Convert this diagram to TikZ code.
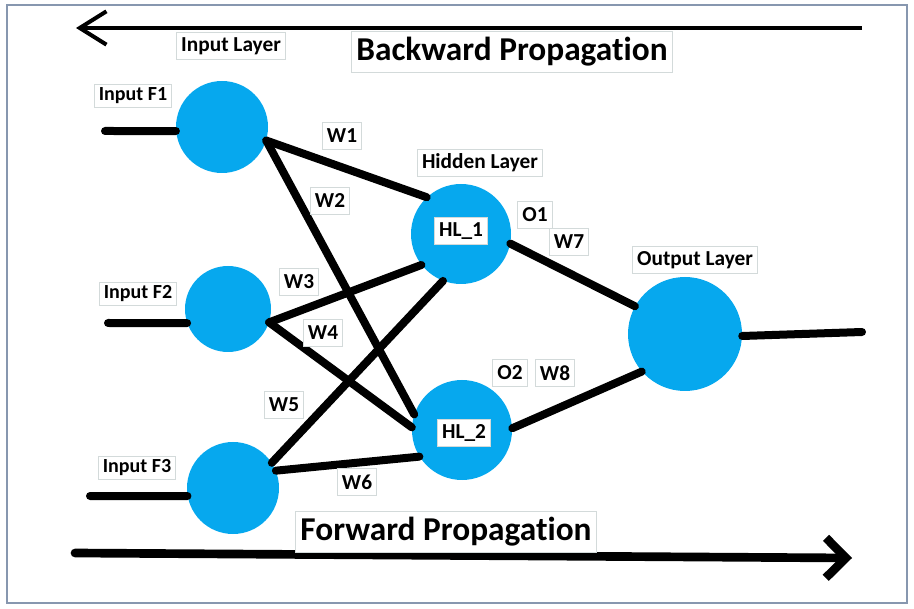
\documentclass[tikz,border=0pt]{standalone}
\usepackage{fontspec}
\setmainfont{Carlito}[Ligatures=NoCommon]
\usetikzlibrary{arrows.meta,positioning}
\definecolor{neuronblue}{HTML}{06A8EE}
\definecolor{tagline}{HTML}{D3DADA}
\definecolor{framegray}{HTML}{8797AF}

\begin{document}
\begin{tikzpicture}[x=0.75pt,y=-0.75pt,
    neuron/.style={circle,fill=neuronblue,inner sep=0pt,minimum size=#1},
    wire/.style={line width=6pt,line cap=round},
    tag/.style={draw=tagline,fill=white,line width=0.6pt,inner xsep=3.5pt,inner ysep=2pt,
      minimum height=20pt,font=\bfseries\fontsize{16}{18}\selectfont},
    smalltag/.style={tag,inner ysep=1pt,minimum height=17pt,font=\bfseries\fontsize{15}{17}\selectfont},
    bigtag/.style={tag,inner sep=3.5pt,minimum height=31pt,font=\bfseries\fontsize{25}{28}\selectfont}]
  \useasboundingbox (0,0) rectangle (914,609);
  \draw[framegray,line width=2pt] (7,5) rectangle (907,603);

  % neurons
  \node[neuron=69pt] (in1) at (222,127) {};
  \node[neuron=64.5pt] (in2) at (228,309) {};
  \node[neuron=69pt] (in3) at (233,488) {};
  \node[neuron=75pt] (hl1) at (461,234) {};
  \node[neuron=75pt] (hl2) at (462,430) {};
  \node[neuron=85.5pt] (out) at (685,334) {};

  % inputs and output
  \coordinate (f1) at (105,131);
  \coordinate (f2) at (108,323);
  \coordinate (f3) at (90,496);
  \coordinate (y) at (862,332);
  \draw[wire] (f1) -- (in1.185);
  \draw[wire] (f2) -- (in2.199);
  \draw[wire] (f3) -- (in3.190);
  \draw[wire] (out.-2) -- (y);

  % weights
  \draw[wire] (in1.-17) -- (hl1.133);
  \draw[wire] (in1.-17) -- (hl2.162);
  \draw[wire] (in2.-18) -- (hl1.218);
  \draw[wire] (in2.-18) -- (hl2.177);
  \draw[wire] (in3.33) -- (hl1.249);
  \draw[wire] (in3.22) -- (hl2.212);
  \draw[wire] (hl1.-11) -- (out.151);
  \draw[wire] (hl2.2) -- (out.221);

  % propagation arrows
  \coordinate (bwdstart) at (862,28);
  \coordinate (bwdend) at (76,28);
  \coordinate (fwdstart) at (75,553);
  \coordinate (fwdend) at (852,558);
  \draw[line width=3pt,-{Straight Barb[length=20pt 0 0,width=25pt 0 0]}] (bwdstart) -- (bwdend);
  \draw[line width=6.5pt,line cap=round,-{Straight Barb[length=15pt 0 0,width=30pt 0 0]}] (fwdstart) -- (fwdend);

  % labels
  \node[tag] (inlayer) at (231,46) {Input Layer};
  \node[bigtag] (bwd) at (512,52) {Backward Propagation};
  \node[smalltag] (lf1) at (133,96) {Input F1};
  \node[smalltag] (lf2) at (138,294) {Input F2};
  \node[smalltag] (lf3) at (137,468) {Input F3};
  \node[tag] (hidlayer) at (480,163) {Hidden Layer};
  \node[tag] (outlayer) at (695,260) {Output Layer};
  \node[tag] (lhl1) at (461,231) {HL\_1};
  \node[tag] (lhl2) at (464,433) {HL\_2};
  \node[tag] (lo1) at (535,215) {O1};
  \node[tag] (lo2) at (510,373) {O2};
  \node[tag] (w1) at (342,136) {W1};
  \node[tag] (w2) at (330,201) {W2};
  \node[tag] (w3) at (299,282) {W3};
  \node[tag] (w4) at (323,333) {W4};
  \node[tag] (w5) at (284,405) {W5};
  \node[tag] (w6) at (357,482) {W6};
  \node[tag] (w7) at (569,242) {W7};
  \node[tag] (w8) at (555,373) {W8};
  \node[bigtag] (fwd) at (446,532) {Forward Propagation};
\end{tikzpicture}
\end{document}
